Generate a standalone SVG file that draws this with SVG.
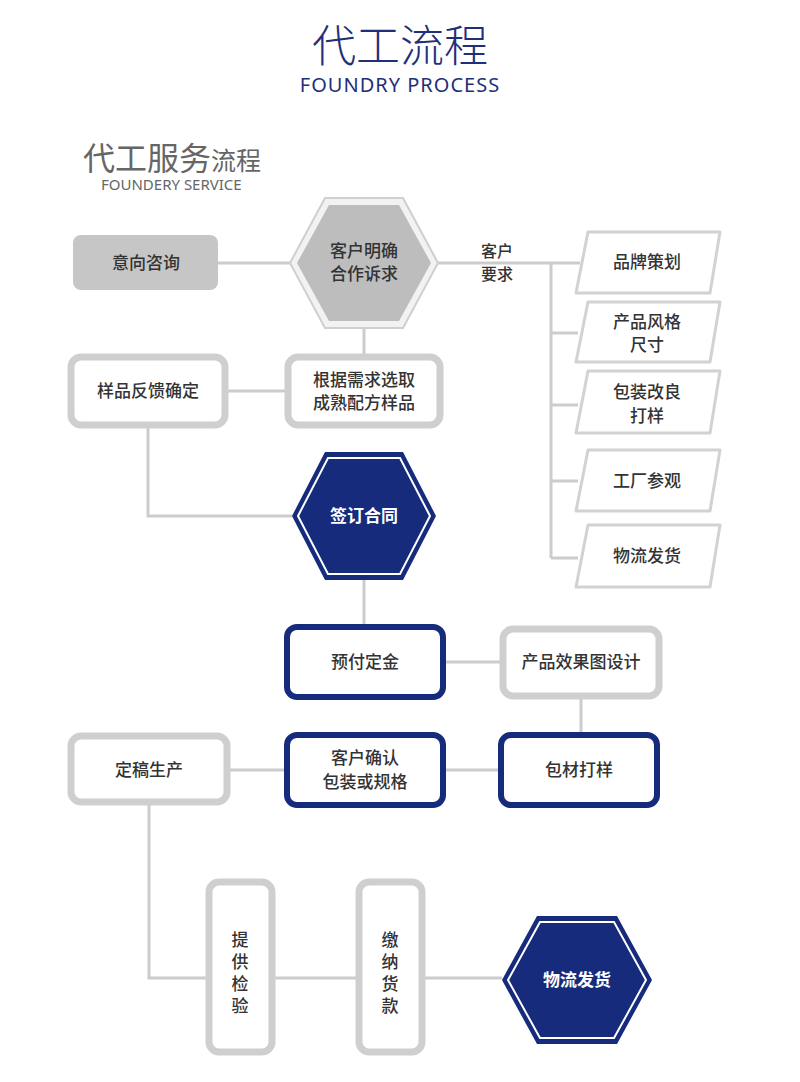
<svg xmlns="http://www.w3.org/2000/svg" width="800" height="1082" viewBox="0 0 800 1082">
<style>
text{font-family:"Noto Sans CJK SC","Noto Sans",sans-serif;text-anchor:middle;}
.t{font-size:17px;fill:#333;font-weight:500;}
.w{font-size:17px;fill:#fff;font-weight:bold;}
.g{fill:#fff;stroke:#cfcfcf;stroke-width:7;}
.n{fill:#fff;stroke:#172b7c;stroke-width:6;}
.p{fill:#fff;stroke:#d2d2d2;stroke-width:3;stroke-linejoin:round;}
.c{stroke:#cccccc;stroke-width:3;fill:none;}
</style>
<rect width="800" height="1082" fill="#fff"/>
<text x="400" y="62" style="font-size:44px;fill:#1f2f7a;font-weight:300">代工流程</text>
<text x="400" y="92" style="font-size:20px;fill:#1f2f7a;font-family:'Noto Sans',sans-serif;letter-spacing:1px">FOUNDRY PROCESS</text>
<text x="83" y="170" style="text-anchor:start;font-size:32px;fill:#666">代工服务<tspan style="font-size:25px">流程</tspan></text>
<text x="101" y="190" style="text-anchor:start;font-size:15px;fill:#666;font-family:'Noto Sans',sans-serif">FOUNDERY SERVICE</text>
<g id="connectors" class="c">
<path d="M218 263H290M438 263H580M551 263V558M551 333H578M551 405H578M551 481H578M551 558H578"/>
<path d="M364 328V357M225 391H288M148 425V516H292M364 580V627M443 662H503M581 696V735M443 770H501M227 770H287M149 802V978H502"/>
</g>
<g id="n1"><rect x="73" y="235" width="145" height="55" rx="8" fill="#c6c6c6"/><text class="t" x="146" y="269">意向咨询</text></g>
<g id="n2"><polygon points="290,263 325,198 403,198 438,263 403,328 325,328" fill="#f2f2f2" stroke="#cfcfcf" stroke-width="2"/><polygon points="297,263 329,205 399,205 431,263 399,321 329,321" fill="#bdbdbd"/><text class="t" x="364" y="257">客户明确</text><text class="t" x="364" y="280">合作诉求</text></g>
<text class="t" x="497" y="257" style="font-size:16px">客户</text><text class="t" x="497" y="280" style="font-size:16px">要求</text>
<g id="r1"><polygon class="p" points="588,232 720,232 710,293 576,293"/><text class="t" x="647" y="268">品牌策划</text></g>
<g id="r2"><polygon class="p" points="588,302 720,302 710,362 576,362"/><text class="t" x="647" y="328">产品风格</text><text class="t" x="647" y="351">尺寸</text></g>
<g id="r3"><polygon class="p" points="588,371 720,371 710,433 576,433"/><text class="t" x="647" y="398">包装改良</text><text class="t" x="647" y="422">打样</text></g>
<g id="r4"><polygon class="p" points="588,450 720,450 710,511 576,511"/><text class="t" x="647" y="487">工厂参观</text></g>
<g id="r5"><polygon class="p" points="588,525 720,525 710,587 576,587"/><text class="t" x="647" y="562">物流发货</text></g>
<g id="n3"><rect class="g" x="288" y="357" width="152" height="68" rx="10"/><text class="t" x="364" y="386">根据需求选取</text><text class="t" x="364" y="409">成熟配方样品</text></g>
<g id="n4"><rect class="g" x="71" y="357" width="154" height="68" rx="10"/><text class="t" x="148" y="397">样品反馈确定</text></g>
<g id="n5"><polygon points="292,516 325,452 403,452 436,516 403,580 325,580" fill="#172b7c"/><polygon points="298,516 328,458 400,458 430,516 400,574 328,574" fill="#172b7c" stroke="#fff" stroke-width="2"/><text class="w" x="364" y="522">签订合同</text></g>
<g id="n6"><rect class="n" x="287" y="627" width="156" height="70" rx="10"/><text class="t" x="365" y="668">预付定金</text></g>
<g id="n7"><rect class="g" x="503" y="629" width="156" height="67" rx="10"/><text class="t" x="581" y="668">产品效果图设计</text></g>
<g id="n8"><rect class="n" x="501" y="735" width="156" height="70" rx="10"/><text class="t" x="579" y="776">包材打样</text></g>
<g id="n9"><rect class="n" x="287" y="735" width="156" height="70" rx="10"/><text class="t" x="365" y="764">客户确认</text><text class="t" x="365" y="788">包装或规格</text></g>
<g id="n10"><rect class="g" x="71" y="736" width="156" height="66" rx="10"/><text class="t" x="149" y="776">定稿生产</text></g>
<g id="n11"><rect class="g" x="209" y="882" width="63" height="170" rx="10"/><text class="t" x="240" y="946">提</text><text class="t" x="240" y="968">供</text><text class="t" x="240" y="990">检</text><text class="t" x="240" y="1012">验</text></g>
<g id="n12"><rect class="g" x="359" y="882" width="63" height="170" rx="10"/><text class="t" x="390" y="946">缴</text><text class="t" x="390" y="968">纳</text><text class="t" x="390" y="990">货</text><text class="t" x="390" y="1012">款</text></g>
<g id="n13"><polygon points="502,980 537,916 617,916 652,980 617,1044 537,1044" fill="#172b7c"/><polygon points="508,980 540,922 614,922 646,980 614,1038 540,1038" fill="#172b7c" stroke="#fff" stroke-width="2"/><text class="w" x="577" y="986">物流发货</text></g>
</svg>
